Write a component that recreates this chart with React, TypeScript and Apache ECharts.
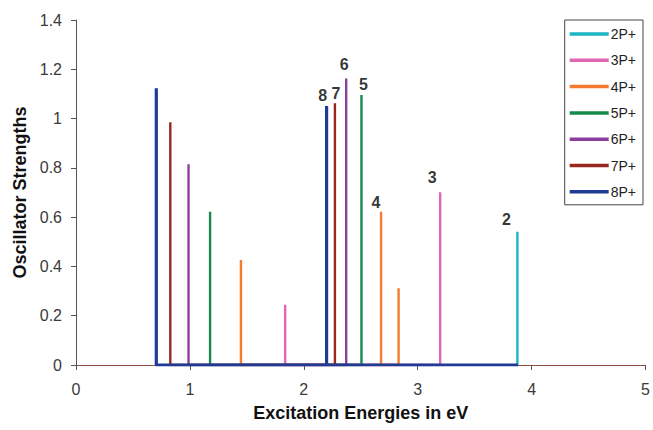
import React, { useEffect, useRef } from "react";
import * as echarts from "echarts";

const seriesNames = ["2P+", "3P+", "4P+", "5P+", "6P+", "7P+", "8P+"];
const seriesColors = ["#1cb5c6", "#e065b2", "#f47b30", "#138a4c", "#8d3d9c", "#9a2620", "#1f3b94"];
const energies: number[][] = [
  [3.875],
  [1.836, 3.197],
  [1.448, 2.678, 2.832],
  [1.177, 2.506],
  [0.988, 2.372],
  [0.828, 2.273],
  [0.705, 2.2],
];
const strengths: number[][] = [
  [0.541],
  [0.244, 0.701],
  [0.426, 0.622, 0.311],
  [0.622, 1.096],
  [0.815, 1.163],
  [0.985, 1.062],
  [1.123, 1.051],
];
// which peak of each series carries the number label
const labelTexts = ["2", "3", "4", "5", "6", "7", "8"];
const labelPeak = [0, 1, 1, 1, 1, 1, 1];
const labelOffsets: number[][] = [[-11, -2], [-8, -4], [-5, 1], [2, 0], [-2, -3], [1, 1], [-4, 0]];
const baselineEnd = 3.88;
const xTicks = { min: 0, max: 5, interval: 1 };
const yTicks = { min: 0, max: 1.4, interval: 0.2 };

const FONT = "Liberation Sans, Arial, sans-serif";

export default function App() {
  const ref = useRef<HTMLDivElement>(null);
  useEffect(() => {
    const chart = echarts.init(ref.current!, null, { renderer: "svg" });
    const series: any[] = seriesNames.map((name, si) => {
      const data: any[] = [];
      energies[si].forEach((e, pi) => {
        data.push([e, 0]);
        data.push([e, strengths[si][pi]]);
        data.push([e, 0]);
      });
      if (si === seriesNames.length - 1) data.push([baselineEnd, 0]);
      return {
        name,
        type: "line",
        data,
        showSymbol: false,
        symbol: "none",
        color: seriesColors[si],
        lineStyle: { color: seriesColors[si], width: si === seriesNames.length - 1 ? 3.2 : 2.4 },
        z: 2 + si,
      };
    });
    series.push({
      name: "peak labels",
      type: "scatter",
      symbolSize: 1,
      itemStyle: { color: "rgba(0,0,0,0)" },
      z: 20,
      data: seriesNames.map((_, si) => ({
        value: [energies[si][labelPeak[si]], strengths[si][labelPeak[si]]],
        label: {
          show: true,
          position: "top",
          distance: 2,
          formatter: labelTexts[si],
          offset: labelOffsets[si],
          color: "#000",
          fontWeight: "bold",
          fontSize: 16,
          fontFamily: FONT,
        },
      })),
    });
    chart.setOption({
      animation: false,
      backgroundColor: "#fff",
      textStyle: { fontFamily: FONT },
      grid: { left: 76, right: 5, top: 20, bottom: 65 },
      legend: {
        orient: "vertical",
        right: 10,
        top: 20,
        itemWidth: 39,
        itemHeight: 3.5,
        itemGap: 12.3,
        icon: "rect",
        padding: [7, 7, 6, 5],
        borderColor: "#444",
        borderWidth: 1,
        textStyle: { fontSize: 14, lineHeight: 14, color: "#222", padding: [0, 0, 0, -3] },
        data: seriesNames,
      },
      xAxis: {
        type: "value",
        ...xTicks,
        name: "Excitation Energies in eV",
        nameLocation: "middle",
        nameGap: 39,
        nameTextStyle: { fontSize: 18, fontWeight: "bold", color: "#111" },
        axisLine: { lineStyle: { color: "#8a5046", width: 1 } },
        axisTick: { show: true, inside: false, length: 5, lineStyle: { color: "#555" } },
        axisLabel: { fontSize: 16, color: "#3a3a3a", margin: 16 },
        splitLine: { show: false },
      },
      yAxis: {
        type: "value",
        ...yTicks,
        name: "Oscillator Strengths",
        nameLocation: "middle",
        nameGap: 45,
        nameTextStyle: { fontSize: 18, fontWeight: "bold", color: "#111" },
        axisLine: { show: true, lineStyle: { color: "#555", width: 1 } },
        axisTick: { show: true, inside: false, length: 5, lineStyle: { color: "#555" } },
        axisLabel: { fontSize: 16, color: "#3a3a3a", margin: 14 },
        splitLine: { show: false },
      },
      series,
    });
    return () => chart.dispose();
  }, []);
  return <div ref={ref} style={{ width: 653, height: 430, position: "absolute", left: 0, top: 0 }} />;
}
